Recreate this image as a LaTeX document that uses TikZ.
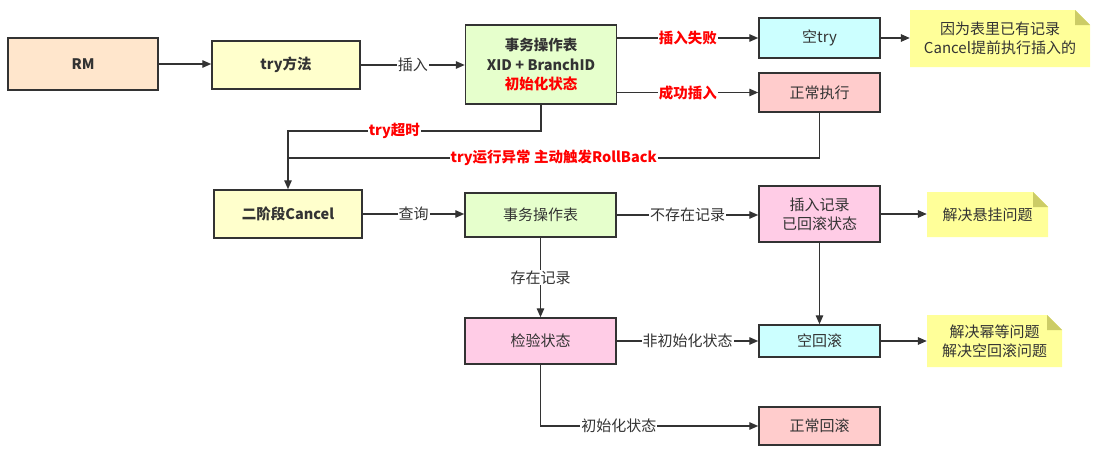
\documentclass[tikz,border=0pt]{standalone}
\usepackage{fontspec}
\setmainfont{Noto Sans CJK SC}
\usetikzlibrary{arrows.meta}
\definecolor{ln}{HTML}{333333}
\definecolor{peach}{HTML}{FFE6CC}
\definecolor{ltyellow}{HTML}{FFFFCC}
\definecolor{ltgreen}{HTML}{E6FFCC}
\definecolor{ltcyan}{HTML}{CCFFFF}
\definecolor{ltred}{HTML}{FFCCCC}
\definecolor{ltpink}{HTML}{FFCCE6}
\definecolor{notey}{HTML}{FFFF99}
\definecolor{notefold}{HTML}{CCCC66}
\tikzset{
  box/.style={draw=ln, line width=1.5pt, text=ln, inner sep=0pt, align=center},
  conn/.style={draw=ln, line width=1.4pt, -{Triangle[length=9pt,width=7.5pt]}},
  plain/.style={draw=ln, line width=1.4pt},
  lbl/.style={fill=white, text=ln, inner sep=1pt},
  rlbl/.style={fill=white, text=red, inner sep=1pt, font=\fontsize{14.5}{17}\selectfont\bfseries},
  notebox/.style={inner sep=0pt, text=ln, align=center,
    path picture={
      \fill[notey] (path picture bounding box.south west) -- (path picture bounding box.north west)
        -- ([xshift=-15pt]path picture bounding box.north east)
        -- ([yshift=-15pt]path picture bounding box.north east)
        -- (path picture bounding box.south east) -- cycle;
      \fill[notefold] ([xshift=-15pt]path picture bounding box.north east)
        -- ([xshift=-15pt,yshift=-15pt]path picture bounding box.north east)
        -- ([yshift=-15pt]path picture bounding box.north east) -- cycle;
    }},
}
\begin{document}
\begin{tikzpicture}[x=1pt,y=-1pt,font=\fontsize{15}{19}\selectfont]
\useasboundingbox (0,0) rectangle (1100,453);
% nodes
\node[box, fill=peach, minimum width=150pt, minimum height=52pt, font=\fontsize{14.5}{18}\selectfont\bfseries] (rm) at (83,64) {RM};
\node[box, fill=ltyellow, minimum width=148pt, minimum height=48pt, font=\fontsize{14.5}{18}\selectfont\bfseries] (try) at (286,65) {try方法};
\node[box, fill=ltgreen, minimum width=151pt, minimum height=79pt, font=\fontsize{14.5}{19.5}\selectfont\bfseries] (t1) at (541,64.5) {事务操作表\\XID + BranchID\\\textcolor{red}{初始化状态}};
\node[box, fill=ltcyan, minimum width=121pt, minimum height=40pt] (kt) at (819.5,38) {空try};
\node[box, fill=ltred, minimum width=121pt, minimum height=39pt] (zc) at (819.5,92.5) {正常执行};
\node[notebox, minimum width=180pt, minimum height=57pt] (n1) at (1000,38.5) {因为表里已有记录\\Cancel提前执行插入的};
\node[box, fill=ltyellow, minimum width=148pt, minimum height=48pt, font=\fontsize{14.5}{18}\selectfont\bfseries] (cancel) at (288,214) {二阶段Cancel};
\node[box, fill=ltgreen, minimum width=151pt, minimum height=44pt] (t2) at (540.5,215) {事务操作表};
\node[box, fill=ltpink, minimum width=121pt, minimum height=56pt] (cr) at (819.5,214) {插入记录\\已回滚状态};
\node[notebox, minimum width=121pt, minimum height=45pt] (n2) at (987.5,214.5) {解决悬挂问题};
\node[box, fill=ltpink, minimum width=151pt, minimum height=46pt] (jy) at (540.5,341) {检验状态};
\node[box, fill=ltcyan, minimum width=121pt, minimum height=32pt] (kh) at (819.5,341) {空回滚};
\node[notebox, minimum width=135pt, minimum height=52pt] (n3) at (994.5,341) {解决幂等问题\\解决空回滚问题};
\node[box, fill=ltred, minimum width=121pt, minimum height=38pt] (zh) at (819.5,426) {正常回滚};
% connectors
\draw[conn] (rm.east) -- (rm.east -| try.west);
\draw[conn] (try.east) -- (try.east -| t1.west) node[midway, lbl] {插入};
\draw[conn] (t1.east |- kt) -- (kt.west) node[midway, rlbl] {插入失败};
\draw[conn] (t1.east |- zc) -- (zc.west) node[midway, rlbl] {成功插入};
\draw[conn] (kt.east) -- (kt.east -| n1.west);
\draw[conn] (t1.south) |- (cancel.north |- 0,131) node[pos=0.79, rlbl] {try超时} -- (cancel.north);
\draw[plain] (zc.south) |- (cancel.north |- 0,158) node[pos=0.75, rlbl] {try运行异常 主动触发RollBack};
\draw[conn] (cancel.east) -- (cancel.east -| t2.west) node[midway, lbl] {查询};
\draw[conn] (t2.east) -- (t2.east -| cr.west) node[midway, lbl] {不存在记录};
\draw[conn] (cr.east) -- (cr.east -| n2.west);
\draw[conn] (cr.south) -- (kh.north);
\draw[conn] (t2.south) -- (jy.north) node[midway, lbl] {存在记录};
\draw[conn] (jy.east) -- (jy.east -| kh.west) node[midway, lbl] {非初始化状态};
\draw[conn] (kh.east) -- (kh.east -| n3.west);
\draw[conn] (jy.south) |- (zh.west) node[pos=0.68, lbl] {初始化状态};
\end{tikzpicture}
\end{document}
